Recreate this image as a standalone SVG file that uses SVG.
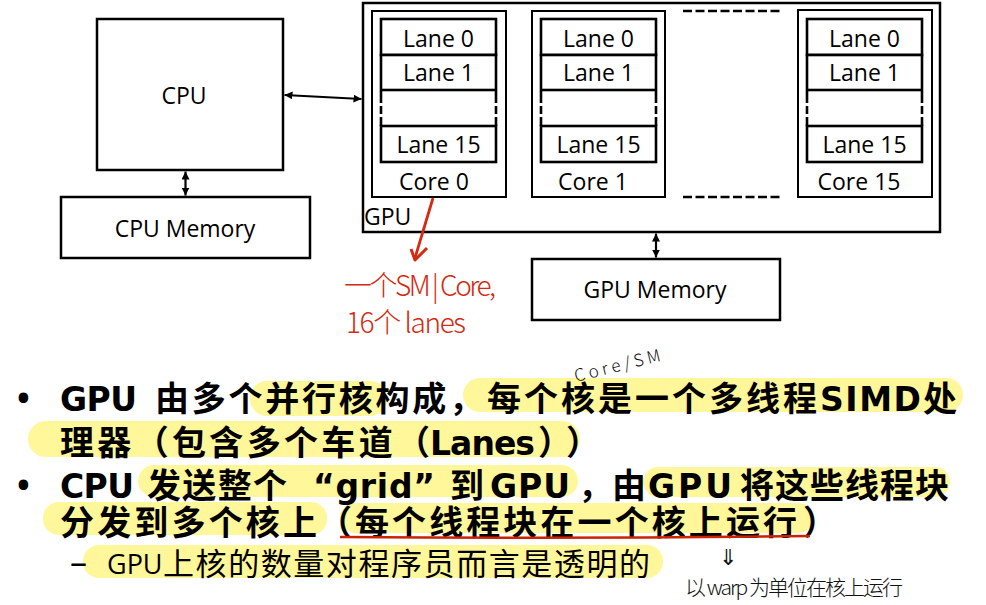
<svg xmlns="http://www.w3.org/2000/svg" width="986" height="605" viewBox="0 0 986 605">
<style>
.box{fill:#fff;stroke:#000;stroke-width:2.5}
.core{fill:#fff;stroke:#000;stroke-width:2}
.lane{fill:#fff;stroke:#000;stroke-width:2.6}
.dash{stroke:#000;stroke-width:2.6;stroke-dasharray:12 3 8 3;fill:none}
.hdash{stroke:#000;stroke-width:2.5;stroke-dasharray:9 3.5;fill:none}
.t{font-family:"Open Sans","Noto Sans",sans-serif;font-size:23px;fill:#000}
.m{text-anchor:middle}
.conn{stroke:#000;stroke-width:2.2;fill:none;marker-start:url(#ah);marker-end:url(#ah)}
.hl{fill:#fff799}
.bu{font-family:"Open Sans",sans-serif;font-weight:700;font-size:34px;fill:#000}
.b{font-family:"DejaVu Sans","Noto Sans CJK SC",sans-serif;font-weight:700;font-size:33px;fill:#000}
.c{font-family:"Noto Sans CJK SC",sans-serif;font-weight:700;font-size:34px;fill:#000}
.r{font-family:"Open Sans","Noto Sans CJK SC",sans-serif;font-weight:400;font-size:27px;fill:#000}
.rc{font-family:"Noto Sans CJK SC",sans-serif;font-weight:400;font-size:31px;fill:#000}
.red{font-family:"Noto Sans CJK SC",sans-serif;font-weight:300;font-size:28px;fill:#d42a10}
.hw{font-family:"Noto Sans CJK SC",sans-serif;font-weight:300;fill:#111}
</style>
<defs>
<marker id="ah" viewBox="0 0 8 8" refX="8" refY="4" markerWidth="8" markerHeight="8" markerUnits="userSpaceOnUse" orient="auto-start-reverse">
<path d="M0,0 L8,4 L0,8 z" fill="#000"/>
</marker>
</defs>

<g id="highlights">
<rect class="hl" x="250" y="381" width="137" height="35" rx="17"/>
<rect class="hl" x="463" y="378" width="500" height="34" rx="17"/>
<rect class="hl" x="28" y="421" width="552" height="36" rx="18"/>
<rect class="hl" x="138" y="465" width="440" height="32" rx="16"/>
<rect class="hl" x="643" y="467" width="307" height="30" rx="15"/>
<rect class="hl" x="43" y="502" width="284" height="33" rx="16"/>
<rect class="hl" x="340" y="503" width="473" height="30" rx="15"/>
<rect class="hl" x="83" y="545" width="580" height="33" rx="16"/>
</g>

<g id="cpu">
<rect class="box" x="97" y="19" width="186" height="151"/>
<text class="t m" x="184" y="104">CPU</text>
</g>
<g id="cpu-memory">
<rect class="box" x="61" y="197" width="249" height="61"/>
<text class="t m" x="185" y="237">CPU Memory</text>
</g>

<g id="gpu">
<rect class="box" x="363" y="3" width="577" height="229"/>
<text class="t" x="364" y="225">GPU</text>
<line class="hdash" x1="683" y1="11" x2="780" y2="11"/>
<line class="hdash" x1="683" y1="197" x2="780" y2="197"/>
</g>

<g id="core0">
<rect class="core" x="372" y="11" width="134" height="186"/>
<rect class="lane" x="381" y="19" width="115" height="36"/>
<rect class="lane" x="381" y="55" width="115" height="35"/>
<line class="dash" x1="381" y1="91" x2="381" y2="126"/>
<line class="dash" x1="496" y1="91" x2="496" y2="126"/>
<rect class="lane" x="381" y="126" width="115" height="36"/>
<text class="t m" x="438.5" y="47">Lane 0</text>
<text class="t m" x="438.5" y="81">Lane 1</text>
<text class="t m" x="438.5" y="153">Lane 15</text>
<text class="t m" x="434" y="190">Core 0</text>
</g>

<g id="core1">
<rect class="core" x="532" y="11" width="133" height="186"/>
<rect class="lane" x="541" y="19" width="115" height="36"/>
<rect class="lane" x="541" y="55" width="115" height="35"/>
<line class="dash" x1="541" y1="91" x2="541" y2="126"/>
<line class="dash" x1="656" y1="91" x2="656" y2="126"/>
<rect class="lane" x="541" y="126" width="115" height="36"/>
<text class="t m" x="598.5" y="47">Lane 0</text>
<text class="t m" x="598.5" y="81">Lane 1</text>
<text class="t m" x="598.5" y="153">Lane 15</text>
<text class="t m" x="593" y="190">Core 1</text>
</g>

<g id="core15">
<rect class="core" x="798" y="10" width="134" height="187"/>
<rect class="lane" x="807" y="19" width="115" height="36"/>
<rect class="lane" x="807" y="55" width="115" height="35"/>
<line class="dash" x1="807" y1="91" x2="807" y2="126"/>
<line class="dash" x1="922" y1="91" x2="922" y2="126"/>
<rect class="lane" x="807" y="126" width="115" height="36"/>
<text class="t m" x="864.5" y="47">Lane 0</text>
<text class="t m" x="864.5" y="81">Lane 1</text>
<text class="t m" x="864.5" y="153">Lane 15</text>
<text class="t m" x="859" y="190">Core 15</text>
</g>

<g id="gpu-memory">
<rect class="box" x="532" y="259" width="248" height="61"/>
<text class="t m" x="655" y="298">GPU Memory</text>
</g>

<g id="connectors">
<line class="conn" x1="185.5" y1="171.5" x2="185.5" y2="195.5"/>
<line class="conn" x1="284.5" y1="95" x2="361.5" y2="99"/>
<line class="conn" x1="656" y1="233.5" x2="656" y2="257.5"/>
</g>

<g id="annotations">
<path d="M433,198 L415,258" stroke="#d42a10" stroke-width="2.8" fill="none"/>
<path d="M411,249 L415,260 L427,248" stroke="#d42a10" stroke-width="3" fill="none" stroke-linejoin="round"/>
<text class="red" x="344" y="296" textLength="152">一个SM | Core,</text>
<text class="red" x="346" y="333" textLength="120">16个 lanes</text>
<text class="hw" font-size="17" x="576" y="382" transform="rotate(-14 576 382)" textLength="88">Core/SM</text>
<text class="hw" font-size="22" x="719" y="565">⇓</text>
<text class="hw" font-size="21" x="685" y="595" textLength="218">以 warp 为单位在核上运行</text>
</g>

<g id="bullets">
<text class="bu" x="17" y="410">•</text>
<text class="b" x="60" y="411" textLength="77">GPU</text>
<text class="c" x="155" y="411" textLength="328">由多个并行核构成，</text>
<text class="c" x="487" y="411" textLength="330">每个核是一个多线程</text>
<text class="b" x="820" y="411" textLength="101">SIMD</text>
<text class="c" x="923" y="411">处</text>

<text class="c" x="60" y="455" textLength="370">理器（包含多个车道（</text>
<text class="b" x="430" y="455" textLength="105">Lanes</text>
<text class="c" x="538" y="455" textLength="62">））</text>

<text class="bu" x="17" y="497">•</text>
<text class="b" x="60" y="498" textLength="74">CPU</text>
<text class="c" x="147" y="498" textLength="140">发送整个</text>
<text class="b" x="313" y="498" textLength="122">“grid”</text>
<text class="c" x="450" y="498">到</text>
<text class="b" x="490" y="498" textLength="80">GPU</text>
<text class="c" x="578" y="498">，</text>
<text class="c" x="612" y="498">由</text>
<text class="b" x="648" y="498" textLength="84">GPU</text>
<text class="c" x="740" y="498" textLength="209">将这些线程块</text>

<text class="c" x="60" y="535" textLength="257">分发到多个核上</text>
<text class="c" x="318" y="535">（</text>
<text class="c" x="355" y="535" textLength="442">每个线程块在一个核上运行</text>
<text class="c" x="803" y="535">）</text>
<path d="M340,537 Q575,539 810,536" stroke="#cc2200" stroke-width="2.5" fill="none"/>

<text class="r" x="70" y="574" style="font-size:34px">–</text>
<text class="r" x="107" y="574">GPU</text>
<text class="rc" x="163" y="575" textLength="487">上核的数量对程序员而言是透明的</text>
</g>
</svg>
